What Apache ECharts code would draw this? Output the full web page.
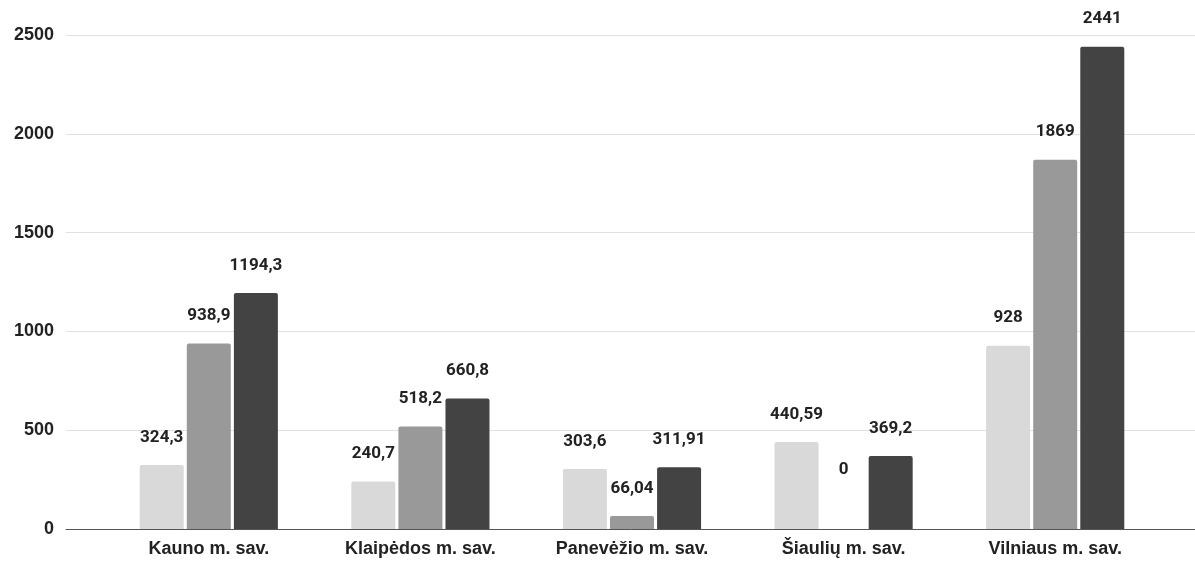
<!DOCTYPE html>
<html>
<head>
<meta charset="utf-8">
<script src="https://cdn.jsdelivr.net/npm/echarts@6/dist/echarts.min.js"></script>
<style>
  html, body { margin: 0; padding: 0; background: #fff; }
  #chart { width: 1195px; height: 563px; }
</style>
</head>
<body>
<div id="chart"></div>
<script>
// duomenys
var categories = ['Kauno m. sav.', 'Klaipėdos m. sav.', 'Panevėžio m. sav.', 'Šiaulių m. sav.', 'Vilniaus m. sav.'];
var series1 = [324.3, 240.7, 303.6, 440.59, 928];
var series2 = [938.9, 518.2, 66.04, 0, 1869];
var series3 = [1194.3, 660.8, 311.91, 369.2, 2441];
var yTicks = [0, 500, 1000, 1500, 2000, 2500];

var colors = ['#d9d9d9', '#999999', '#434343'];
var labelFont = 'Roboto, "Noto Sans", sans-serif';
var axisFont = '"Liberation Sans", Arial, sans-serif';

function fmt(v) {
    return String(v).replace('.', ',');
}

function makeSeries(name, values, color) {
    return {
        name: name,
        type: 'bar',
        xAxisIndex: 0,
        yAxisIndex: 0,
        barWidth: 44,
        barGap: '7%',
        itemStyle: { color: color, borderRadius: [2, 2, 0, 0] },
        label: {
            show: true,
            position: 'top',
            distance: 19,
            color: '#222',
            fontFamily: labelFont,
            fontWeight: 'bold',
            fontSize: 17,
            formatter: function (p) { return fmt(p.value); }
        },
        data: values.map(function (v) {
            if (v === 0) {
                return { value: v, label: { distance: 51 } };
            }
            return v;
        })
    };
}

var chart = echarts.init(document.getElementById('chart'));
var option = {
    animation: false,
    grid: [
        // stulpeliai
        { left: 103, right: 34, top: 35, bottom: 34 },
        // fono linijos ir y reikšmės
        { left: 66, right: 0, top: 35, bottom: 34 }
    ],
    xAxis: [
        {
            type: 'category',
            gridIndex: 0,
            data: categories,
            axisLine: { show: false },
            axisTick: { show: false },
            axisLabel: {
                color: '#222',
                fontFamily: axisFont,
                fontWeight: 'bold',
                fontSize: 18,
                margin: 11
            }
        },
        {
            type: 'category',
            gridIndex: 1,
            data: ['a'],
            axisLine: { show: true, lineStyle: { color: '#555', width: 1 } },
            axisTick: { show: false },
            axisLabel: { show: false }
        }
    ],
    yAxis: [
        {
            type: 'value',
            gridIndex: 0,
            min: yTicks[0],
            max: yTicks[yTicks.length - 1],
            interval: 500,
            axisLabel: { show: false },
            splitLine: { show: false },
            axisLine: { show: false },
            axisTick: { show: false }
        },
        {
            type: 'value',
            gridIndex: 1,
            min: yTicks[0],
            max: yTicks[yTicks.length - 1],
            interval: 500,
            axisLine: { show: false },
            axisTick: { show: false },
            splitLine: { lineStyle: { color: '#e0e0e0', width: 1 } },
            axisLabel: {
                color: '#222',
                fontFamily: axisFont,
                fontWeight: 'bold',
                fontSize: 18,
                margin: 12,
                formatter: function (v) { return String(v); }
            }
        }
    ],
    series: [
        makeSeries('1', series1, colors[0]),
        makeSeries('2', series2, colors[1]),
        makeSeries('3', series3, colors[2])
    ]
};
chart.setOption(option);
</script>
</body>
</html>
